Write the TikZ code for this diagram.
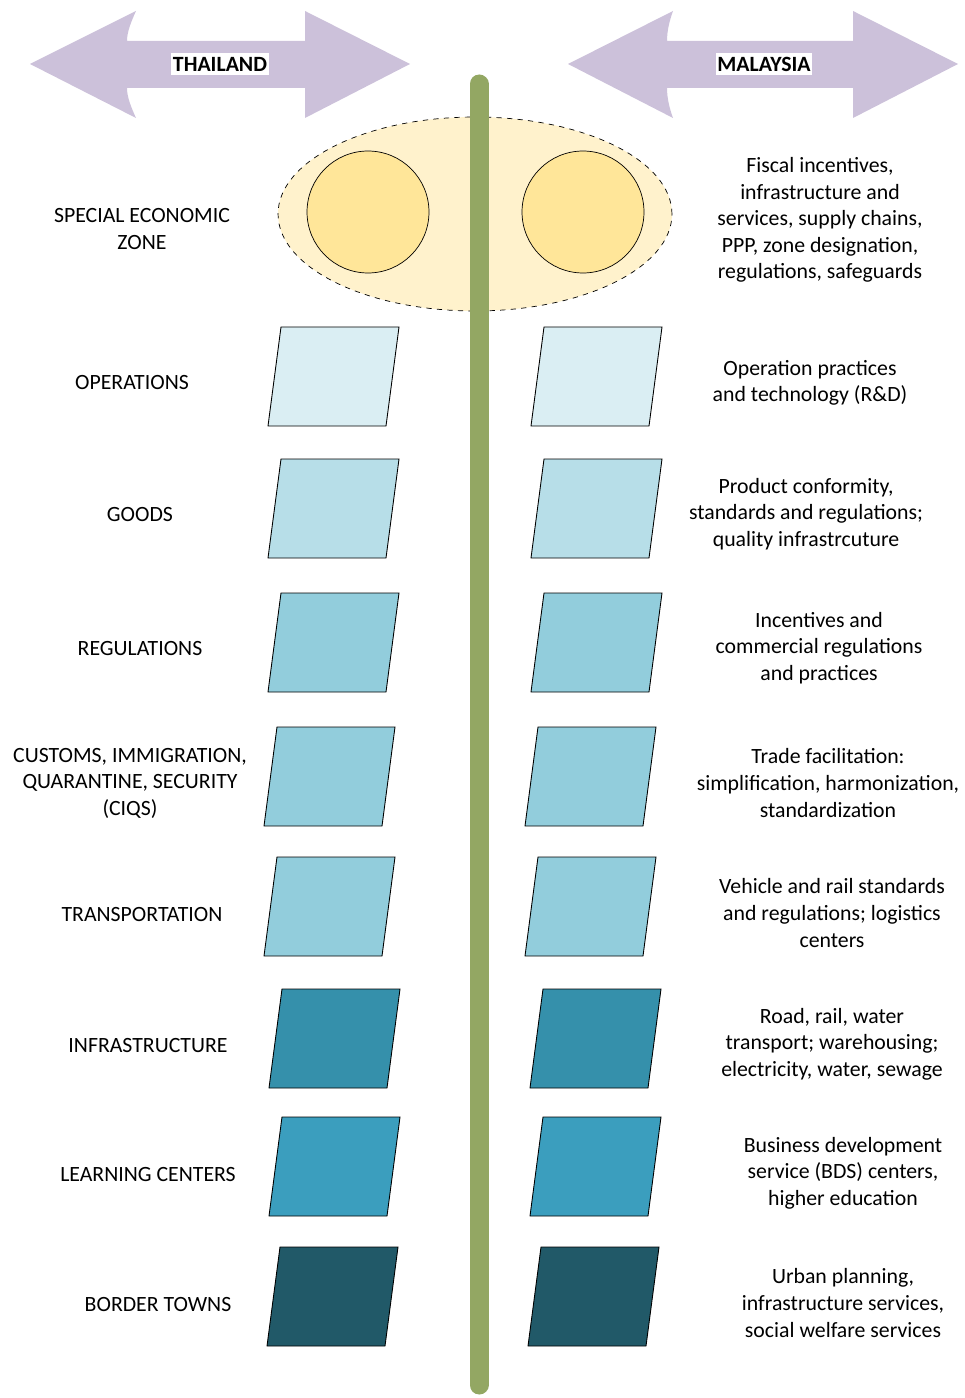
\documentclass[tikz,border=0pt]{standalone}
\usepackage{fontspec}
\setmainfont{Carlito}
\usetikzlibrary{shapes.geometric}

\definecolor{lilac}{HTML}{CCC1DA}
\definecolor{zonefill}{HTML}{FFF2CC}
\definecolor{zonecore}{HTML}{FFE699}
\definecolor{spine}{HTML}{93A763}
\definecolor{teal1}{HTML}{DAEEF3}
\definecolor{teal2}{HTML}{B7DEE8}
\definecolor{teal3}{HTML}{92CDDC}
\definecolor{teal4}{HTML}{3590AB}
\definecolor{teal5}{HTML}{3B9EBE}
\definecolor{teal6}{HTML}{215968}

\tikzset{
   rowlabel/.style = {align=center, inner sep=0pt,
      font=\fontsize{12.4}{15.1}\selectfont},
   country/.style  = {fill=white, inner xsep=1pt, inner ysep=2pt,
      font=\fontsize{12.4}{15.1}\selectfont\bfseries},
   slab/.style     = {draw=black, line width=0.5pt},
   banner/.style   = {fill=lilac, draw=none}
}

% parallelogram: bottom-left x, top y, colour
\newcommand{\slab}[3]{%
   \draw[slab, fill=#3] (#1+13,#2) -- (#1+131,#2) -- (#1+118,#2+99)
      -- (#1,#2+99) -- cycle;}

\begin{document}
\begin{tikzpicture}[x=0.02cm, y=-0.02cm]
   \useasboundingbox (0,0) rectangle (964,1398);

   % country banners
   \fill[banner] (30,64) -- (136,11) .. controls (131,22) and (127,32) .. (127,41)
      -- (305,41) -- (305,11) -- (410,64) -- (305,118) -- (305,88) -- (127,88)
      .. controls (127,97) and (131,107) .. (136,118) -- cycle;
   \fill[banner] (568,64) -- (673,11) .. controls (669,22) and (667,32) .. (667,41)
      -- (853,41) -- (853,11) -- (958,64) -- (853,118) -- (853,88) -- (667,88)
      .. controls (667,97) and (669,107) .. (673,118) -- cycle;
   \node[country] (thai) at (220,64) {THAILAND};
   \node[country] (malay) at (764,64) {MALAYSIA};

   % special economic zone
   \node[ellipse, draw=black, dashed, thin, fill=zonefill,
      minimum width=7.88cm, minimum height=3.88cm] (sez) at (475,214) {};
   \node[circle, draw=black, thin, fill=zonecore,
      minimum size=2.44cm] (sezT) at (368,212) {};
   \node[circle, draw=black, thin, fill=zonecore,
      minimum size=2.44cm] (sezM) at (583,212) {};

   % border line
   \draw[spine, line width=0.38cm, line cap=round] (479,84) -- (479,1385);

   % thailand side
   \slab{268}{327}{teal1}
   \slab{268}{459}{teal2}
   \slab{268}{593}{teal3}
   \slab{264}{727}{teal3}
   \slab{264}{857}{teal3}
   \slab{269}{989}{teal4}
   \slab{269}{1117}{teal5}
   \slab{267}{1247}{teal6}

   % malaysia side
   \slab{531}{327}{teal1}
   \slab{531}{459}{teal2}
   \slab{531}{593}{teal3}
   \slab{525}{727}{teal3}
   \slab{525}{857}{teal3}
   \slab{530}{989}{teal4}
   \slab{530}{1117}{teal5}
   \slab{528}{1247}{teal6}

   % row names
   \node[rowlabel] (tsez)   at (142,229)  {SPECIAL ECONOMIC\\ZONE};
   \node[rowlabel] (tops)   at (132,383)  {OPERATIONS};
   \node[rowlabel] (tgoods) at (140,515)  {GOODS};
   \node[rowlabel] (tregs)  at (140,649)  {REGULATIONS};
   \node[rowlabel] (tciqs)  at (130,783)  {CUSTOMS, IMMIGRATION,\\QUARANTINE, SECURITY\\(CIQS)};
   \node[rowlabel] (ttrans) at (142,914)  {TRANSPORTATION};
   \node[rowlabel] (tinfra) at (148,1045) {INFRASTRUCTURE};
   \node[rowlabel] (tlearn) at (148,1174) {LEARNING CENTERS};
   \node[rowlabel] (ttown)  at (158,1304) {BORDER TOWNS};

   % row details
   \node[rowlabel] (msez)   at (820,220)  {Fiscal incentives,\\infrastructure and\\services, supply chains,\\PPP, zone designation,\\regulations, safeguards};
   \node[rowlabel] (mops)   at (810,383)  {Operation practices\\and technology (R\&D)};
   \node[rowlabel] (mgoods) at (806,514)  {Product conformity,\\standards and regulations;\\quality infrastrcuture};
   \node[rowlabel] (mregs)  at (819,648)  {Incentives and\\commercial regulations\\and practices};
   \node[rowlabel] (mciqs)  at (828,783)  {Trade facilitation:\\simplification, harmonization,\\standardization};
   \node[rowlabel] (mtrans) at (832,913)  {Vehicle and rail standards\\and regulations; logistics\\centers};
   \node[rowlabel] (minfra) at (832,1044) {Road, rail, water\\transport; warehousing;\\electricity, water, sewage};
   \node[rowlabel] (mlearn) at (843,1173) {Business development\\service (BDS) centers,\\higher education};
   \node[rowlabel] (mtown)  at (843,1303) {Urban planning,\\infrastructure services,\\social welfare services};
\end{tikzpicture}
\end{document}
